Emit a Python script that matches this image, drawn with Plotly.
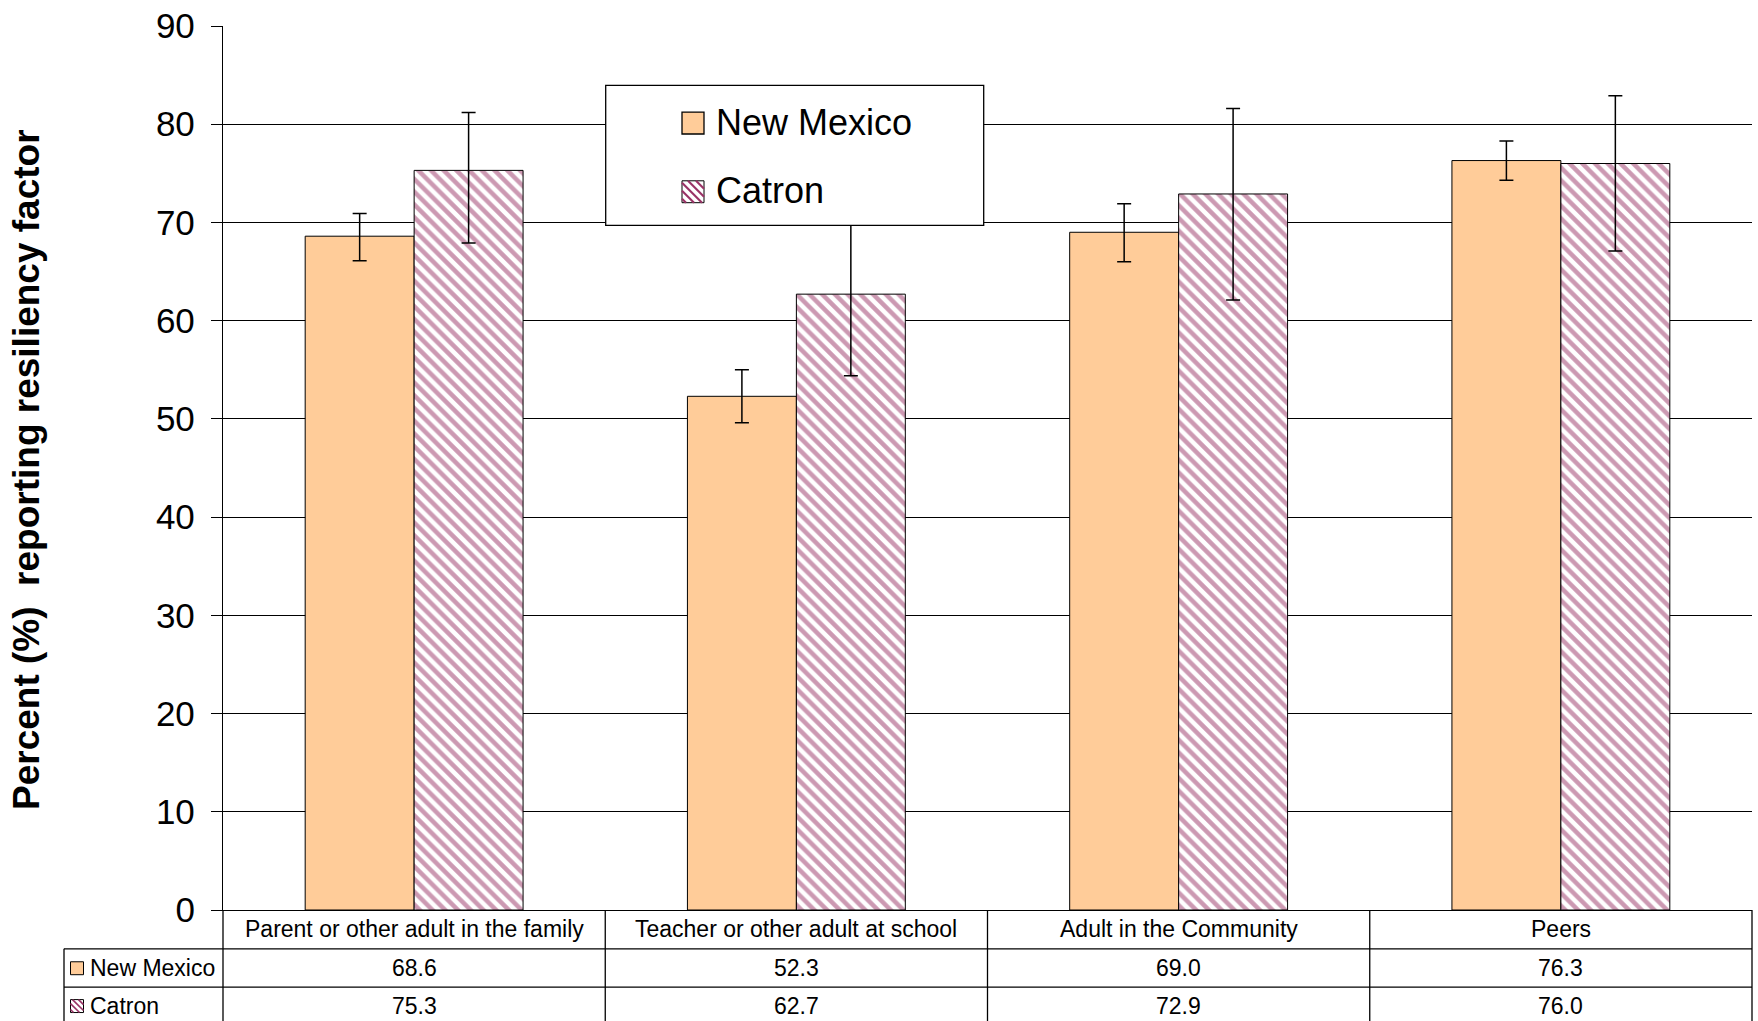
import plotly.graph_objects as go

# ---------------- data ----------------
categories = ["Parent or other adult in the family", "Teacher or other adult at school",
              "Adult in the Community", "Peers"]
series_names = ["New Mexico", "Catron"]
nm_values = [68.6, 52.3, 69.0, 76.3]
catron_values = [75.3, 62.7, 72.9, 76.0]
nm_err_plus = [2.3, 2.7, 2.9, 2.0]
nm_err_minus = [2.5, 2.7, 3.0, 2.0]
catron_err_plus = [5.9, 7.4, 8.7, 6.9]
catron_err_minus = [7.4, 8.3, 10.8, 8.9]
y_ticks = [0, 10, 20, 30, 40, 50, 60, 70, 80, 90]

# ---------------- layout constants ----------------
W, H = 1758, 1021
ML, MR, MT, MB = 223, 6, 22, 111
PW, PH = W - ML - MR, H - MT - MB
FONT = "Liberation Sans, Arial, sans-serif"
PEACH = "#FFCC99"
MAROON = "#993366"


def px(x):
    return (x - ML) / PW


def py(y):
    return (H - MB - y) / PH


fig = go.Figure()
fig.add_trace(go.Bar(
    x=categories, y=nm_values, name=series_names[0], showlegend=False,
    marker=dict(color=PEACH, line=dict(color="black", width=1)),
    error_y=dict(type="data", symmetric=False, array=nm_err_plus, arrayminus=nm_err_minus,
                 color="black", thickness=1.5, width=7),
))
fig.add_trace(go.Bar(
    x=categories, y=catron_values, name=series_names[1], showlegend=False,
    marker=dict(color="white", line=dict(color="black", width=1),
                pattern=dict(shape="\\", fgcolor=MAROON, bgcolor="white", size=9, solidity=0.5)),
    error_y=dict(type="data", symmetric=False, array=catron_err_plus, arrayminus=catron_err_minus,
                 color="black", thickness=1.5, width=7),
))

shapes = []
annotations = []
line = dict(color="black", width=1.3)


def hatch_swatch(x0, x1, yc, half, step, lw):
    """white square with maroon downward diagonals"""
    out = [dict(type="rect", xref="paper", yref="paper", layer="above",
                x0=px(x0), x1=px(x1), y0=py(yc + half), y1=py(yc - half),
                fillcolor="white", line=dict(color="black", width=1))]
    size = x1 - x0
    top = yc - half
    for off in range(-int(size) + step // 2, int(size), step):
        xa = max(x0, x0 + off)
        xb = min(x1, x1 + off)
        if xb - xa < 2:
            continue
        ya = top + (xa - x0) - off
        yb = top + (xb - x0) - off
        out.append(dict(type="line", xref="paper", yref="paper", layer="above",
                        x0=px(xa), x1=px(xb), y0=py(ya), y1=py(yb),
                        line=dict(color=MAROON, width=lw)))
    return out


# legend box (drawn above bars)
shapes.append(dict(type="rect", xref="paper", yref="paper", layer="above",
                   x0=px(605.7), x1=px(983.7), y0=py(222.3), y1=py(81.7),
                   fillcolor="white", line=dict(color="black", width=1.3)))
leg_centers = [119.5, 188.5]
lfont = dict(family=FONT, size=36, color="black")
for j, name in enumerate(series_names):
    yc = leg_centers[j]
    if j == 0:
        shapes.append(dict(type="rect", xref="paper", yref="paper", layer="above",
                           x0=px(682), x1=px(704), y0=py(yc + 11), y1=py(yc - 11),
                           fillcolor=PEACH, line=dict(color="black", width=1.3)))
    else:
        shapes.extend(hatch_swatch(682, 704, yc, 11, 8, 2.2))
    annotations.append(dict(x=px(714), y=py(yc - 1), xref="paper", yref="paper", text=name,
                            showarrow=False, font=lfont, xanchor="left", yanchor="middle"))

# data table grid
y_hdr_top, y_hdr_bot, y_r1_bot, y_bottom = 910, 949, 987.5, 1030
x_tab_left = 64
n = len(categories)
for k in range(n + 1):
    xb = k / n
    shapes.append(dict(type="line", xref="paper", yref="paper", x0=xb, x1=xb,
                       y0=py(y_hdr_top), y1=py(y_bottom), line=line))
for yy in (y_hdr_bot, y_r1_bot):
    shapes.append(dict(type="line", xref="paper", yref="paper", x0=px(x_tab_left), x1=1,
                       y0=py(yy), y1=py(yy), line=line))
shapes.append(dict(type="line", xref="paper", yref="paper", x0=px(x_tab_left), x1=px(x_tab_left),
                   y0=py(y_hdr_bot), y1=py(y_bottom), line=line))

row_centers = [929.5, 968, 1006]
tfont = dict(family=FONT, size=23, color="black")
for i, c in enumerate(categories):
    annotations.append(dict(x=c, y=py(row_centers[0]), xref="x", yref="paper", text=c,
                            showarrow=False, font=tfont, xanchor="center", yanchor="middle"))
    annotations.append(dict(x=c, y=py(row_centers[1]), xref="x", yref="paper",
                            text=f"{nm_values[i]:.1f}", showarrow=False, font=tfont,
                            xanchor="center", yanchor="middle"))
    annotations.append(dict(x=c, y=py(row_centers[2]), xref="x", yref="paper",
                            text=f"{catron_values[i]:.1f}", showarrow=False, font=tfont,
                            xanchor="center", yanchor="middle"))

for j, name in enumerate(series_names):
    yc = row_centers[j + 1]
    annotations.append(dict(x=px(88), y=py(yc), xref="paper", yref="paper", text=name,
                            showarrow=False, font=tfont, xanchor="left", yanchor="middle"))
    if j == 0:
        shapes.append(dict(type="rect", xref="paper", yref="paper", x0=px(70.5), x1=px(83.5),
                           y0=py(yc + 7), y1=py(yc - 6), fillcolor=PEACH,
                           line=dict(color="black", width=1)))
    else:
        shapes.extend(hatch_swatch(70.5, 83.5, yc + 0.5, 6.5, 6, 1.6))

# y-axis title
annotations.append(dict(x=px(27), y=py(468), xref="paper", yref="paper",
                        text="Percent (%)  reporting resiliency factor", textangle=-90,
                        showarrow=False, xanchor="center", yanchor="middle",
                        font=dict(family=FONT, size=37, color="black", weight="bold")))

fig.update_layout(
    width=W, height=H,
    margin=dict(l=ML, r=MR, t=MT, b=MB, pad=0),
    paper_bgcolor="white", plot_bgcolor="white",
    font=dict(family=FONT, color="black"),
    barmode="group", bargap=0.43, bargroupgap=0.0,
    showlegend=False,
    shapes=shapes, annotations=annotations,
    xaxis=dict(type="category", range=[-0.5, n - 0.5], showticklabels=False, ticks="",
               showline=True, linecolor="black", linewidth=1.3, showgrid=False, zeroline=False,
               fixedrange=True),
    yaxis=dict(range=[0, 90], tickvals=y_ticks, ticks="outside", ticklen=11, tickcolor="black",
               tickwidth=1.3, showline=True, linecolor="black", linewidth=1.3,
               showgrid=True, gridcolor="black", gridwidth=1.3, zeroline=False,
               ticklabelstandoff=9,
               tickfont=dict(family=FONT, size=35, color="black"), fixedrange=True),
)

fig.write_html("out.html", config={"displayModeBar": False},
               post_script="document.body.style.margin='0';document.body.style.overflow='hidden';")
